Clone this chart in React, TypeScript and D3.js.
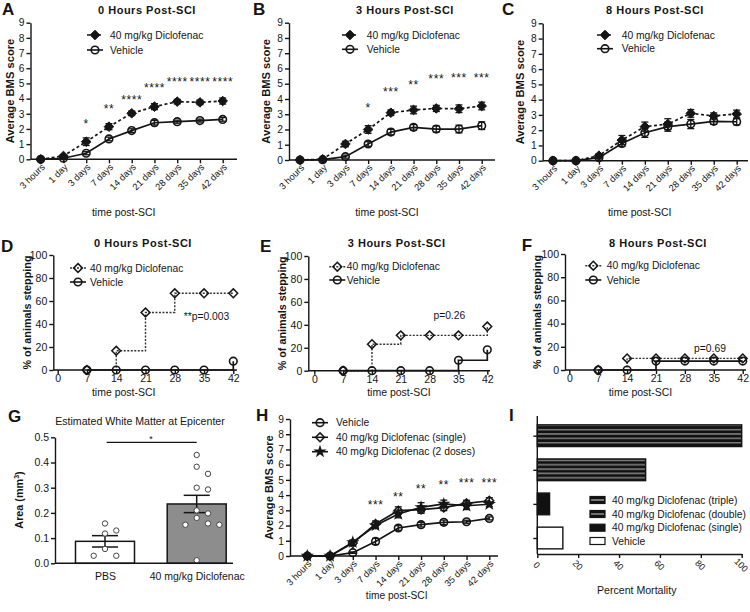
import React, { useRef, useEffect } from "react";
import * as d3 from "d3";

const FONT = "'Liberation Sans', Arial, sans-serif";
const INK = "#151515";

// shared categories
const TIMEPOINTS = ["3 hours", "1 day", "3 days", "7 days", "14 days", "21 days", "28 days", "35 days", "42 days"];
const DAYS = [7, 14, 21, 28, 35, 42];
const DAY_TICKS = [0, 7, 14, 21, 28, 35, 42];

// A: 0 hours post-SCI
const A_DICLO = [0, 0.22, 1.16, 2.15, 3.03, 3.47, 3.8, 3.75, 3.84];
const A_DICLO_ERR = [0, 0.08, 0.25, 0.2, 0.15, 0.2, 0.15, 0.15, 0.2];
const A_VEH = [0, 0.07, 0.4, 1.34, 1.89, 2.41, 2.48, 2.55, 2.63];
const A_VEH_ERR = [0, 0.05, 0.1, 0.12, 0.12, 0.15, 0.1, 0.1, 0.12];
const A_STARS = ["", "", "*", "**", "****", "****", "****", "****", "****"];
const A_STAR_Y = [0, 0, 2.48, 3.46, 4.08, 4.83, 5.29, 5.29, 5.29];

// B: 3 hours post-SCI
const B_DICLO = [0, 0.05, 1.05, 2.0, 3.1, 3.28, 3.38, 3.36, 3.54];
const B_DICLO_ERR = [0, 0.05, 0.18, 0.25, 0.18, 0.25, 0.2, 0.25, 0.25];
const B_VEH = [0, 0.02, 0.22, 1.05, 1.83, 2.14, 2.03, 2.03, 2.25];
const B_VEH_ERR = [0, 0.02, 0.1, 0.15, 0.18, 0.18, 0.2, 0.25, 0.25];
const B_STARS = ["", "", "", "*", "***", "**", "***", "***", "***"];
const B_STAR_Y = [0, 0, 0, 3.6, 4.65, 5.09, 5.46, 5.52, 5.52];

// C: 8 hours post-SCI
const C_DICLO = [0, 0, 0.33, 1.35, 2.23, 2.4, 3.1, 2.93, 3.06];
const C_DICLO_ERR = [0, 0, 0.12, 0.3, 0.3, 0.35, 0.25, 0.2, 0.25];
const C_VEH = [0, 0, 0.2, 1.13, 1.83, 2.23, 2.4, 2.58, 2.55];
const C_VEH_ERR = [0, 0, 0.08, 0.2, 0.3, 0.3, 0.3, 0.2, 0.2];

// D-F: % of animals stepping
const D_DICLO = [0, 16.7, 50, 66.7, 66.7, 66.7];
const D_VEH = [0, 0, 0, 0, 0, 7.7];
const E_DICLO = [0, 23.1, 30.8, 30.8, 30.8, 38.5];
const E_VEH = [0, 0, 0, 0, 9.1, 18.2];
const F_DICLO = [0, 10, 10, 10, 10, 10];
const F_VEH = [0, 0, 7.7, 7.7, 7.7, 7.7];

// G: white matter area (mm^3)
const G_GROUPS = ["PBS", "40 mg/kg Diclofenac"];
const G_PBS = [0.158, 0.13, 0.118, 0.057, 0.03, 0.03];
const G_DICLO = [0.43, 0.383, 0.355, 0.3, 0.293, 0.21, 0.198, 0.18, 0.158, 0.153, 0.153, 0.012];
const G_TICKS = [0, 0.1, 0.2, 0.3, 0.4, 0.5];

// H: dosing comparison
const H_VEH = [0, 0, 0.22, 0.96, 1.84, 2.06, 2.21, 2.25, 2.47];
const H_VEH_ERR = [0, 0, 0.05, 0.2, 0.15, 0.15, 0.15, 0.1, 0.1];
const H_SINGLE = [0, 0, 0.85, 2.1, 2.98, 3.05, 3.18, 3.46, 3.63];
const H_SINGLE_ERR = [0, 0, 0.15, 0.2, 0.25, 0.25, 0.2, 0.2, 0.2];
const H_DOUBLE = [0, 0, 0.9, 2.0, 2.76, 3.2, 3.42, 3.3, 3.4];
const H_DOUBLE_ERR = [0, 0, 0.15, 0.2, 0.25, 0.3, 0.25, 0.25, 0.15];
const H_STARS = ["", "", "", "***", "**", "**", "**", "***", "***"];
const H_STAR_Y = [0, 0, 0, 3.5, 4.05, 4.55, 4.82, 4.95, 4.95];

// I: mortality
const I_GROUPS = ["40 mg/kg Diclofenac (triple)", "40 mg/kg Diclofenac (double)", "40 mg/kg Diclofenac (single)", "Vehicle"];
const I_MORTALITY = [100, 53, 6, 12.5];
const I_TICKS = [0, 20, 40, 60, 80, 100];

type Series = { label: string; values: number[]; err?: number[]; marker: string; dash?: string; color?: string };

function styleAxis(sel: any, fs = 10) {
  sel.attr("font-family", FONT).attr("font-size", fs);
  sel.selectAll("path,line").attr("stroke", INK).attr("stroke-width", 1.4);
  sel.selectAll("text").attr("fill", INK);
}

function marker(g: any, type: string, cx: number, cy: number) {
  if (type === "circleOpen") {
    g.append("circle").attr("cx", cx).attr("cy", cy).attr("r", 3.8)
      .attr("fill", "none").attr("stroke", INK).attr("stroke-width", 1.6);
  } else if (type === "diamondFilled" || type === "diamondOpen") {
    const s = type === "diamondFilled" ? 4.8 : 4.4;
    g.append("path").attr("d", `M${cx},${cy - s}L${cx + s},${cy}L${cx},${cy + s}L${cx - s},${cy}Z`)
      .attr("fill", type === "diamondFilled" ? INK : "none")
      .attr("stroke", INK).attr("stroke-width", type === "diamondFilled" ? 1 : 1.5);
  } else if (type === "star") {
    g.append("path").attr("d", d3.symbol(d3.symbolStar, 55)())
      .attr("transform", `translate(${cx},${cy})`).attr("fill", INK);
  }
}

function text(g: any, x: number, y: number, str: string, o: any = {}) {
  const t = g.append("text").attr("x", x).attr("y", y).text(str)
    .attr("font-family", FONT).attr("font-size", o.size || 10)
    .attr("fill", INK).attr("text-anchor", o.anchor || "start");
  if (o.bold) t.attr("font-weight", "bold");
  if (o.spacing) t.attr("letter-spacing", o.spacing);
  if (o.rotate) t.attr("transform", `rotate(${o.rotate},${x},${y})`);
  return t;
}

function legend(g: any, series: Series[], mx: number, tx: number, ys: number[]) {
  series.forEach((s, i) => {
    g.append("line").attr("x1", mx - 8).attr("x2", mx + 8).attr("y1", ys[i]).attr("y2", ys[i])
      .attr("stroke", s.color || INK).attr("stroke-width", 1.6).attr("stroke-dasharray", s.dash || null);
    marker(g, s.marker, mx, ys[i]);
    text(g, tx, ys[i] + 3.6, s.label, { size: 10.3 });
  });
}

function drawBMS(svg: any, o: any) {
  const x = d3.scalePoint<string>().domain(TIMEPOINTS).range([o.x1, o.x2]);
  const y = d3.scaleLinear().domain([0, 9]).range([o.y0, o.y9]);
  const g = svg.append("g");

  const ya = g.append("g").attr("transform", `translate(${o.axisX},0)`)
    .call(d3.axisLeft(y).ticks(9).tickSize(4).tickSizeOuter(0).tickPadding(2));
  styleAxis(ya, 10.2);

  const xa = g.append("g").attr("transform", `translate(0,${o.y0})`)
    .call(d3.axisBottom(x).tickSize(4).tickSizeOuter(0));
  xa.select(".domain").remove();
  xa.append("line").attr("x1", o.axisX).attr("x2", o.xEnd);
  xa.selectAll(".tick text").attr("x", 0).attr("y", 0).attr("dy", "0.35em")
    .attr("text-anchor", "end").attr("transform", "translate(2,6) rotate(-45)");
  styleAxis(xa, 9.3);

  const line = d3.line<number>().x((_, i) => x(TIMEPOINTS[i])!).y((d) => y(d));
  o.series.forEach((s: Series) => {
    g.append("path").datum(s.values).attr("d", line).attr("fill", "none")
      .attr("stroke", INK).attr("stroke-width", 1.7).attr("stroke-dasharray", s.dash || null);
  });
  o.series.forEach((s: Series) => {
    s.values.forEach((v, i) => {
      const e = s.err ? s.err[i] : 0;
      if (!e) return;
      const cx = x(TIMEPOINTS[i])!;
      const eb = g.append("g").attr("stroke", INK).attr("stroke-width", 1.3);
      eb.append("line").attr("x1", cx).attr("x2", cx).attr("y1", y(v - e)).attr("y2", y(v + e));
      [v - e, v + e].forEach((yy) =>
        eb.append("line").attr("x1", cx - 3.5).attr("x2", cx + 3.5).attr("y1", y(yy)).attr("y2", y(yy)));
    });
  });
  o.series.forEach((s: Series) => {
    s.values.forEach((v, i) => marker(g, s.marker, x(TIMEPOINTS[i])!, y(v)));
  });

  if (o.stars) {
    o.stars.forEach((st: string, i: number) => {
      if (!st) return;
      text(g, x(TIMEPOINTS[i])!, y(o.starY[i]) + 6.5, st, { size: 12, anchor: "middle", spacing: 0.6 });
    });
  }

  text(g, o.yLabelX, (o.y0 + o.y9) / 2, "Average BMS score", { size: 11.2, bold: true, anchor: "middle", rotate: -90 });
  text(g, o.xTitle[0], o.xTitle[1], "time post-SCI", { size: o.xTitleSize || 10.5, anchor: "middle" });
  if (o.title) text(g, o.title[0], o.title[1], o.title[2], { size: 11, bold: true, anchor: "middle", spacing: 0.5 });
  text(g, o.letter[0], o.letter[1], o.letter[2], { size: 17, bold: true });
  legend(g, o.series, o.legend[0], o.legend[1], o.legend[2]);
}

function drawStep(svg: any, o: any) {
  const x = d3.scaleLinear().domain([0, 42]).range([o.x0, o.x42]);
  const y = d3.scaleLinear().domain([0, 100]).range([o.y0, o.y100]);
  const g = svg.append("g");

  const ya = g.append("g").attr("transform", `translate(${o.axisX},0)`)
    .call(d3.axisLeft(y).tickValues([0, 20, 40, 60, 80, 100]).tickSize(4).tickSizeOuter(0).tickPadding(2));
  styleAxis(ya, 10.5);

  const xa = g.append("g").attr("transform", `translate(0,${o.y0})`)
    .call(d3.axisBottom(x).tickValues(DAY_TICKS).tickSize(4).tickSizeOuter(0).tickPadding(1));
  xa.select(".domain").remove();
  xa.append("line").attr("x1", o.axisX).attr("x2", o.xEnd);
  styleAxis(xa, 10.5);

  const line = d3.line<number>().x((_, i) => x(DAYS[i])).y((d) => y(d)).curve(d3.curveStepAfter);
  o.series.forEach((s: Series) => {
    g.append("path").datum(s.values).attr("d", line).attr("fill", "none")
      .attr("stroke", s.color || INK).attr("stroke-width", s.dash ? 1.4 : 1.7)
      .attr("stroke-dasharray", s.dash || null);
  });
  o.series.forEach((s: Series) => {
    s.values.forEach((v, i) => marker(g, s.marker, x(DAYS[i]), y(v)));
  });

  text(g, o.yLabelX, (o.y0 + o.y100) / 2, "% of animals stepping", { size: 10.8, bold: true, anchor: "middle", rotate: -90 });
  text(g, o.xTitle[0], o.xTitle[1], "time post-SCI", { size: 10.5, anchor: "middle" });
  text(g, o.title[0], o.title[1], o.title[2], { size: 11, bold: true, anchor: "middle", spacing: 0.5 });
  text(g, o.letter[0], o.letter[1], o.letter[2], { size: 17, bold: true });
  text(g, o.pText[0], o.pText[1], o.pText[2], { size: 10.3, anchor: "middle" });
  legend(g, o.series, o.legend[0], o.legend[1], o.legend[2]);
}

function swarm(values: number[], y: (v: number) => number, cx: number, step: number, minDy: number) {
  const placed: { x: number; y: number }[] = [];
  const order = values.map((v, i) => i).sort((a, b) => values[b] - values[a]);
  const out: { x: number; y: number }[] = new Array(values.length);
  order.forEach((i) => {
    const py = y(values[i]);
    for (let k = 0; k < 20; k++) {
      const off = k === 0 ? 0 : (k % 2 ? 1 : -1) * Math.ceil(k / 2);
      const px = cx + off * step;
      const hit = placed.some((p) => Math.abs(p.x - px) < step * 0.9 && Math.abs(p.y - py) < minDy);
      if (!hit) {
        placed.push({ x: px, y: py });
        out[i] = { x: px, y: py };
        break;
      }
    }
  });
  return out;
}

function drawG(svg: any) {
  const axisX = 55, y0 = 563.3, y5 = 437.3;
  const x = d3.scalePoint<string>().domain(G_GROUPS).range([105, 196.7]);
  const y = d3.scaleLinear().domain([0, 0.5]).range([y0, y5]);
  const g = svg.append("g");
  const groups = [G_PBS, G_DICLO];
  const fills = ["#fff", "#8d8d8d"];
  const barW = 59;

  groups.forEach((vals, gi) => {
    const cx = x(G_GROUPS[gi])!;
    const m = d3.mean(vals)!;
    const sem = d3.deviation(vals)! / Math.sqrt(vals.length);
    g.append("rect").attr("x", cx - barW / 2).attr("y", y(m)).attr("width", barW).attr("height", y0 - y(m))
      .attr("fill", fills[gi]).attr("stroke", INK).attr("stroke-width", 1.5);
    const eb = g.append("g").attr("stroke", INK).attr("stroke-width", 1.5);
    eb.append("line").attr("x1", cx).attr("x2", cx).attr("y1", y(m - sem)).attr("y2", y(m + sem));
    [m - sem, m + sem].forEach((v) =>
      eb.append("line").attr("x1", cx - 13).attr("x2", cx + 13).attr("y1", y(v)).attr("y2", y(v)));
    swarm(vals, y, cx, 11.3, 7.5).forEach((p) => {
      g.append("circle").attr("cx", p.x).attr("cy", p.y).attr("r", 2.7)
        .attr("fill", "#fff").attr("stroke", "#444").attr("stroke-width", 1);
    });
  });

  const ya = g.append("g").attr("transform", `translate(${axisX},0)`)
    .call(d3.axisLeft(y).tickValues(G_TICKS).tickFormat(d3.format(".1f")).tickSize(4).tickSizeOuter(0).tickPadding(2));
  styleAxis(ya, 10.5);
  const xa = g.append("g").attr("transform", `translate(0,${y0})`)
    .call(d3.axisBottom(x).tickSize(0).tickPadding(9));
  xa.select(".domain").remove();
  xa.append("line").attr("x1", axisX).attr("x2", 233);
  styleAxis(xa, 10.5);

  g.append("line").attr("x1", 106.7).attr("x2", 196.7).attr("y1", 442.3).attr("y2", 442.3)
    .attr("stroke", INK).attr("stroke-width", 1.3);
  text(g, 151, 442, "*", { size: 9, anchor: "middle" });
  text(g, 140, 425, "Estimated White Matter at Epicenter", { size: 10.6, anchor: "middle" });
  const yl = text(g, 23, 500, "", { size: 10.8, bold: true, anchor: "middle", rotate: -90 });
  yl.append("tspan").text("Area (mm");
  yl.append("tspan").text("3").attr("font-size", 7).attr("dy", -4);
  yl.append("tspan").text(")").attr("dy", 4);
  text(g, 8, 421.7, "G", { size: 17, bold: true });
}

function drawI(svg: any) {
  const axisX = 537.3, yTop = 416, yBot = 554, barH = 21.7;
  const x = d3.scaleLinear().domain([0, 100]).range([axisX, 741.7]);
  const y = d3.scalePoint<string>().domain(I_GROUPS).range([435.7, 538]);
  const g = svg.append("g");

  const defs = svg.append("defs");
  const stripes = [
    { id: "stripeTriple", color: "#a8a8a8", w: 1.1 },
    { id: "stripeDouble", color: "#7a7a7a", w: 1.7 },
  ];
  stripes.forEach((s) => {
    const p = defs.append("pattern").attr("id", s.id).attr("patternUnits", "userSpaceOnUse")
      .attr("width", 10).attr("height", 4.35).attr("y", 0.8);
    p.append("rect").attr("width", 10).attr("height", 4.35).attr("fill", "#111");
    p.append("rect").attr("y", 2).attr("width", 10).attr("height", s.w).attr("fill", s.color);
  });
  const fills = ["url(#stripeTriple)", "url(#stripeDouble)", "#111", "#fff"];

  I_GROUPS.forEach((name, i) => {
    g.append("rect").attr("x", axisX).attr("y", y(name)! - barH / 2)
      .attr("width", x(I_MORTALITY[i]) - axisX).attr("height", barH)
      .attr("fill", fills[i]).attr("stroke", INK).attr("stroke-width", 1.4);
  });

  const ya = g.append("g").attr("transform", `translate(${axisX},0)`)
    .call(d3.axisLeft(y).tickSize(4).tickFormat(() => ""));
  ya.select(".domain").remove();
  ya.append("line").attr("y1", yTop).attr("y2", yBot);
  styleAxis(ya);

  const xa = g.append("g").attr("transform", `translate(0,${yBot})`)
    .call(d3.axisBottom(x).tickValues(I_TICKS).tickSize(4).tickSizeOuter(0));
  xa.selectAll(".tick text").attr("x", 0).attr("y", 0).attr("dy", "0.35em")
    .attr("text-anchor", "middle").attr("transform", "translate(-1,11) rotate(45)");
  styleAxis(xa, 9);

  text(g, 636.7, 594, "Percent Mortality", { size: 10.6, anchor: "middle" });
  text(g, 509, 421, "I", { size: 17, bold: true });

  const ly = [500, 514, 527.7, 541];
  I_GROUPS.forEach((name, i) => {
    g.append("rect").attr("x", 590).attr("y", ly[i] - 3.5).attr("width", 15).attr("height", 7)
      .attr("fill", i === 3 ? "#fff" : "#111").attr("stroke", INK).attr("stroke-width", 1.2);
    if (i < 2) {
      g.append("line").attr("x1", 591).attr("x2", 604).attr("y1", ly[i]).attr("y2", ly[i])
        .attr("stroke", i === 0 ? "#ddd" : "#888").attr("stroke-width", i === 0 ? 1 : 1.6);
    }
    text(g, 612, ly[i] + 3.6, name, { size: 10.3 });
  });
}

export default function App() {
  const ref = useRef<SVGSVGElement>(null);

  useEffect(() => {
    const svg = d3.select(ref.current);
    svg.selectAll("*").remove();

    const dicloLabel = "40 mg/kg Diclofenac";
    drawBMS(svg, {
      axisX: 30.5, x1: 40.7, x2: 222.7, xEnd: 237, y0: 159.3, y9: 22.7, yLabelX: 14,
      xTitle: [123.7, 216], title: [147, 14, "0 Hours Post-SCI"], letter: [2, 15, "A"],
      legend: [95, 110, [35, 50]], stars: A_STARS, starY: A_STAR_Y,
      series: [
        { label: dicloLabel, values: A_DICLO, err: A_DICLO_ERR, marker: "diamondFilled", dash: "3,2.5" },
        { label: "Vehicle", values: A_VEH, err: A_VEH_ERR, marker: "circleOpen" },
      ],
    });
    drawBMS(svg, {
      axisX: 289, x1: 300, x2: 481.7, xEnd: 495, y0: 160, y9: 22.7, yLabelX: 270,
      xTitle: [387, 216], title: [405, 14, "3 Hours Post-SCI"], letter: [253, 15, "B"],
      legend: [350, 366.7, [35, 49.3]], stars: B_STARS, starY: B_STAR_Y,
      series: [
        { label: dicloLabel, values: B_DICLO, err: B_DICLO_ERR, marker: "diamondFilled", dash: "3,2.5" },
        { label: "Vehicle", values: B_VEH, err: B_VEH_ERR, marker: "circleOpen" },
      ],
    });
    drawBMS(svg, {
      axisX: 542.7, x1: 553, x2: 736.7, xEnd: 748, y0: 160.7, y9: 23.3, yLabelX: 524,
      xTitle: [639.7, 216], title: [655, 14, "8 Hours Post-SCI"], letter: [502, 15, "C"],
      legend: [605, 621.7, [35, 48.7]],
      series: [
        { label: dicloLabel, values: C_DICLO, err: C_DICLO_ERR, marker: "diamondFilled", dash: "3,2.5" },
        { label: "Vehicle", values: C_VEH, err: C_VEH_ERR, marker: "circleOpen" },
      ],
    });

    drawStep(svg, {
      axisX: 53.3, x0: 57.7, x42: 233.3, xEnd: 237, y0: 370, y100: 255, yLabelX: 31,
      xTitle: [123.7, 395.5], title: [143, 247, "0 Hours Post-SCI"], letter: [1, 252, "D"],
      legend: [78, 90, [268, 282]], pText: [206.5, 320, "**p=0.003"],
      series: [
        { label: dicloLabel, values: D_DICLO, marker: "diamondOpen", dash: "2,1.5", color: "#333" },
        { label: "Vehicle", values: D_VEH, marker: "circleOpen" },
      ],
    });
    drawStep(svg, {
      axisX: 308.3, x0: 314.3, x42: 487.3, xEnd: 490, y0: 370.7, y100: 256, yLabelX: 286,
      xTitle: [399, 395.5], title: [396.7, 247, "3 Hours Post-SCI"], letter: [260, 252, "E"],
      legend: [337.3, 346.7, [266.7, 280]], pText: [449.3, 318.5, "p=0.26"],
      series: [
        { label: dicloLabel, values: E_DICLO, marker: "diamondOpen", dash: "2,1.5", color: "#333" },
        { label: "Vehicle", values: E_VEH, marker: "circleOpen" },
      ],
    });
    drawStep(svg, {
      axisX: 565, x0: 569.3, x42: 742.7, xEnd: 746, y0: 370, y100: 254, yLabelX: 541,
      xTitle: [640.5, 395.5], title: [658, 247, "8 Hours Post-SCI"], letter: [521.7, 251, "F"],
      legend: [593.3, 606.7, [265.7, 280]], pText: [710, 352, "p=0.69"],
      series: [
        { label: dicloLabel, values: F_DICLO, marker: "diamondOpen", dash: "2,1.5", color: "#333" },
        { label: "Vehicle", values: F_VEH, marker: "circleOpen" },
      ],
    });

    drawG(svg);

    drawBMS(svg, {
      axisX: 290, x1: 307.3, x2: 489.3, xEnd: 498, y0: 556, y9: 419, yLabelX: 273,
      xTitle: [396.7, 599], xTitleSize: 10.2, letter: [256, 421, "H"],
      legend: [320, 336, [422.7, 437.3, 451.7]], stars: H_STARS, starY: H_STAR_Y,
      series: [
        { label: "Vehicle", values: H_VEH, err: H_VEH_ERR, marker: "circleOpen" },
        { label: "40 mg/kg Diclofenac (single)", values: H_SINGLE, err: H_SINGLE_ERR, marker: "diamondOpen" },
        { label: "40 mg/kg Diclofenac (2 doses)", values: H_DOUBLE, err: H_DOUBLE_ERR, marker: "star" },
      ],
    });

    drawI(svg);
  }, []);

  return (
    <div style={{ position: "absolute", left: 0, top: 0 }}>
      <svg ref={ref} width={750} height={612} style={{ display: "block", background: "#fff" }} />
    </div>
  );
}
